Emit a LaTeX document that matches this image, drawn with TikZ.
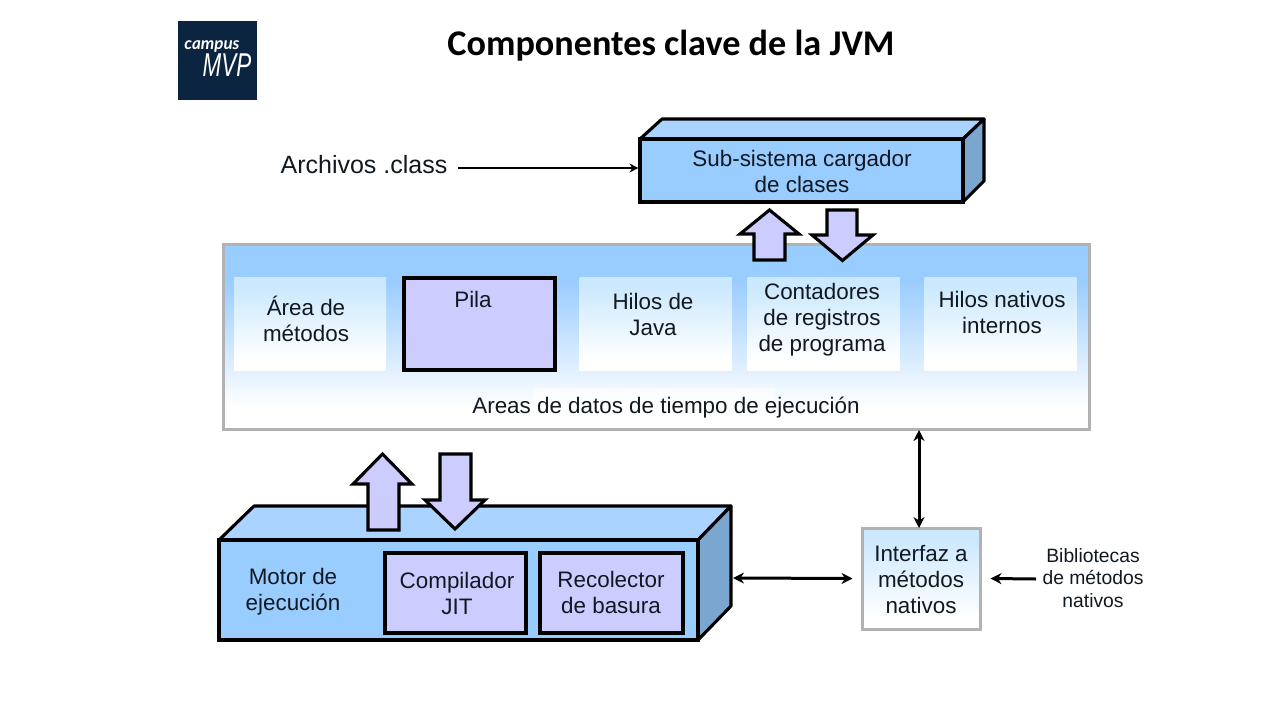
\documentclass[tikz,border=0pt]{standalone}
\usepackage{fontspec}
\setmainfont{Liberation Sans}
\newfontfamily\titlefont{Carlito}
\newfontfamily\logofont{Lato}
\usetikzlibrary{arrows.meta}
\definecolor{skyfront}{HTML}{99CCFF}
\definecolor{skytop}{HTML}{AAD4FF}
\definecolor{skyside}{HTML}{7BA6D0}
\definecolor{lilac}{HTML}{CCCCFF}
\definecolor{palesky}{HTML}{CBE8FD}
\definecolor{edgegray}{HTML}{B2B2B2}
\definecolor{navy}{HTML}{0B2540}
\definecolor{inktext}{HTML}{111820}
\pgfdeclareverticalshading{mainfade}{100bp}{color(0bp)=(white); color(31bp)=(white); color(65bp)=(skyfront); color(100bp)=(skyfront)}
\pgfdeclareverticalshading{panefade}{100bp}{color(0bp)=(white); color(31bp)=(white); color(70bp)=(palesky); color(100bp)=(palesky)}
\tikzset{
  x=1pt,y=-1pt,
  bodytext/.style={inner sep=0pt,align=center,text=inktext,font=\fontsize{22.4}{26}\selectfont},
  lab/.style={bodytext},
  face/.style={draw=black,line width=3.1pt,line join=round},
  softpane/.style={bodytext,shading=panefade,minimum height=93pt,minimum width=152pt},
  lilacbox/.style={draw=black,line width=3.1pt,fill=lilac,bodytext},
  blockarrow/.style={draw=black,line width=3.1pt,fill=lilac,line join=miter},
  link/.style={draw=black,line width=3pt,-{Stealth[length=11pt,width=11pt]}},
  duplex/.style={draw=black,line width=3pt,{Stealth[length=11pt,width=11pt]}-{Stealth[length=11pt,width=11pt]}},
}
\begin{document}
\begin{tikzpicture}
\useasboundingbox (0,0) rectangle (1280,720);
\fill[white] (0,0) rectangle (1280,720);

% logo
\fill[navy] (178,21) rectangle (257,100);
\node[text=white,inner sep=0pt,font=\logofont\bfseries\itshape\fontsize{17}{17}\selectfont] (logocampus) at (212,46) {campus};
\node[text=white,inner sep=0pt,xscale=0.68,font=\itshape\fontsize{33}{33}\selectfont] (logomvp) at (227,65) {MVP};

% title
\node[inner sep=0pt,font=\titlefont\bfseries\fontsize{36.2}{38}\selectfont] (title) at (671,46) {Componentes clave de la JVM};

% class loader box
\draw[face,fill=skytop] (640,139) -- (662,119) -- (984,119) -- (963,139) -- cycle;
\draw[face,fill=skyside] (963,139) -- (984,119) -- (984,181) -- (963,202) -- cycle;
\node[face,line join=miter,fill=skyfront,minimum width=323pt,minimum height=63pt,bodytext] (loader) at (801.5,170.5) {};
\node[lab] at (802,171.5) {Sub-sistema cargador\\de clases};

\node[lab,font=\fontsize{25}{26}\selectfont] (archivos) at (364,165) {Archivos .class};
\coordinate (archivosend) at (458,168);
\draw[draw=black,line width=2.8pt,-{Stealth[length=9pt,width=9pt]}] (archivosend) -- (archivosend -| loader.west);

% runtime data areas
\node[draw=edgegray,line width=3pt,shading=mainfade,minimum width=866pt,minimum height=185pt,inner sep=0pt] (runtime) at (656,336.5) {};
\fill[white,opacity=0.6] (533,388) rectangle (775,426);
\node[lab] (runtimelabel) at (666,408) {Areas de datos de tiempo de ejecución};

\node[softpane] (metodos) at (310,323.5) {};
\node[lab] at (306,319) {Área de\\métodos};
\node[lilacbox,minimum width=151pt,minimum height=92pt] (pila) at (479.5,324) {};
\node[lab] at (473,299) {Pila};
\node[softpane] (hilos) at (655.5,323.5) {};
\node[lab] at (653,314) {Hilos de\\Java};
\node[softpane] (contadores) at (823.5,323.5) {};
\node[lab] at (822,320) {Contadores\\de registros\\de programa};
\node[softpane] (nativos) at (1000.5,323.5) {};
\node[lab] at (1002,312.5) {Hilos nativos\\internos};

% block arrows of the loader
\draw[blockarrow] (754,260) -- (754,234) -- (740,234) -- (769.5,210) -- (799,234) -- (785,234) -- (785,260) -- cycle;
\draw[blockarrow] (827,210) -- (827,235) -- (812,235) -- (842.5,260.5) -- (873,235) -- (857,235) -- (857,210) -- cycle;

% execution engine
\draw[face,fill=skytop] (219,540) -- (254,506) -- (731,506) -- (698,540) -- cycle;
\draw[face,fill=skyside] (698,540) -- (731,506) -- (731,606) -- (698,640) -- cycle;
\node[face,line join=miter,fill=skyfront,minimum width=479pt,minimum height=100pt,inner sep=0pt] (motor) at (458.5,590) {};
\node[lab] at (293,592) {Motor de\\ejecución};
\node[lilacbox,minimum width=141pt,minimum height=80pt] (jit) at (455.5,593) {};
\node[lab] at (457,593) {Compilador\\JIT};
\node[lilacbox,minimum width=143pt,minimum height=80pt] (gc) at (611.5,593) {};
\node[lab] at (611,592) {Recolector\\de basura};

% block arrows of the engine
\draw[blockarrow] (368,530) -- (368,484) -- (353,484) -- (382.5,454) -- (412,484) -- (399,484) -- (399,530) -- cycle;
\draw[blockarrow] (440,454) -- (440,500) -- (425,500) -- (455,529) -- (485,500) -- (471,500) -- (471,454) -- cycle;

% native interface
\node[draw=edgegray,line width=3pt,shading=panefade,minimum width=118pt,minimum height=101pt,bodytext] (iface) at (921,578.5) {};
\node[lab] (ifacelabel) at (921,579.5) {Interfaz a\\métodos\\nativos};
\node[lab,font=\fontsize{19.3}{22.5}\selectfont] (biblio) at (1093,578) {Bibliotecas\\de métodos\\nativos};

\coordinate (vtop) at (919,430);
\coordinate (vbottom) at (919,528);
\draw[duplex] (vtop) -- (vbottom);
\coordinate (motorside) at (733,578);
\draw[duplex] (motorside) -- ([xshift=-8pt]iface.west);
\coordinate (biblioarrow) at (1036,579);
\draw[link] (biblioarrow) -- ([xshift=9pt]iface.east);
\end{tikzpicture}
\end{document}
